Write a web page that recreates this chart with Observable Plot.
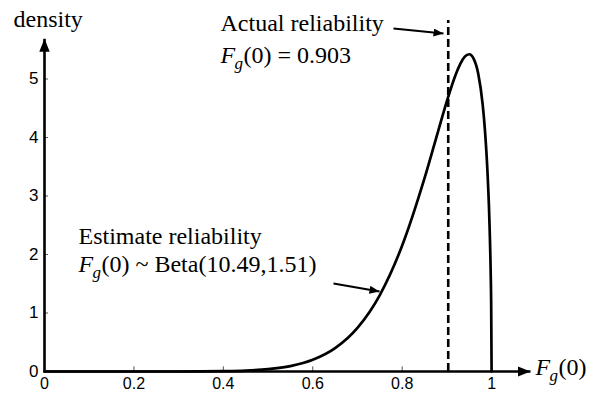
<!DOCTYPE html>
<html><head><meta charset="utf-8">
<script src="https://cdn.jsdelivr.net/npm/d3@7"></script>
<script src="https://cdn.jsdelivr.net/npm/@observablehq/plot@0.6"></script>
<style>
html,body{margin:0;padding:0;background:#fff;}
</style>
</head><body>
<div id="chart"></div>
<script>
// Estimated density of Fg(0)
const xValues = [0, 0.1, 0.2, 0.3, 0.35, 0.4, 0.45, 0.5, 0.55, 0.6, 0.65, 0.7, 0.75, 0.8, 0.85, 0.88, 0.9, 0.92, 0.93, 0.94, 0.95, 0.96, 0.97, 0.98, 0.985, 0.99, 0.995, 0.998, 0.999, 1];
const densityValues = [0, 0, 0, 0.0004, 0.0015, 0.005, 0.015, 0.040, 0.093, 0.200, 0.399, 0.746, 1.307, 2.153, 3.304, 4.098, 4.622, 5.082, 5.260, 5.382, 5.423, 5.344, 5.093, 4.565, 4.136, 3.529, 2.600, 1.677, 1.188, 0];
const xTicks = [0, 0.2, 0.4, 0.6, 0.8, 1];
const xTickLabels = ["0", "0.2", "0.4", "0.6", "0.8", "1"];
const yTicks = [0, 1, 2, 3, 4, 5];
const yTickLabels = ["0", "1", "2", "3", "4", "5"];
const actualReliability = [0.903];

const curveData = xValues.map((x, i) => ({x, y: densityValues[i]}));
const serif = "'Liberation Serif', 'Times New Roman', serif";

function txt(x, y, s, extra = {}) {
  return Plot.text([{x, y}], Object.assign({x: "x", y: "y", text: () => s, textAnchor: "start", lineAnchor: "bottom",
    fontFamily: serif, fontSize: 24, fill: "black"}, extra));
}
function fg(x, y, rest) {
  return [
    txt(x, y, "F", {fontStyle: "italic"}),
    txt(x, y, "g", {fontStyle: "italic", fontSize: 17, dx: 14, dy: 6}),
    txt(x, y, rest, {dx: 23})
  ];
}

const chart = Plot.plot({
  width: 595, height: 393,
  marginLeft: 44, marginRight: 65, marginTop: 20, marginBottom: 22,
  x: {domain: [0, 1.087]},
  y: {domain: [0, 6]},
  style: {fontFamily: "'Liberation Sans', Arial, sans-serif", fontSize: "17px", background: "white", color: "black", overflow: "visible"},
  marks: [
    Plot.axisX(xTicks, {tickSize: 0, tickPadding: 6, fontSize: 16, tickFormat: d => xTickLabels[xTicks.indexOf(d)], label: null, fill: "black"}),
    Plot.axisY(yTicks, {tickSize: 0, tickPadding: 6, tickFormat: d => yTickLabels[yTicks.indexOf(d)], label: null, fill: "black"}),
    Plot.ruleX(xTicks, {x: d => d, y1: 0, y2: 0.08, stroke: "#555", strokeWidth: 1}),
    Plot.ruleY(yTicks, {y: d => d, x1: 0, x2: 0.009, stroke: "#555", strokeWidth: 1}),
    Plot.ruleX(actualReliability, {x: d => d, y1: 0, y2: 6, stroke: "black", strokeWidth: 2.6, strokeDasharray: "8,4"}),
    Plot.line(curveData, {x: "x", y: "y", curve: "monotone-x", stroke: "black", strokeWidth: 2.7}),
    Plot.link([{x1: 0, y1: 0, x2: 1.087, y2: 0}], {x1: "x1", y1: "y1", x2: "x2", y2: "y2", stroke: "black", strokeWidth: 2.6, markerEnd: "arrow"}),
    Plot.link([{x1: 0, y1: -0.02, x2: 0, y2: 5.69}], {x1: "x1", y1: "y1", x2: "x2", y2: "y2", stroke: "black", strokeWidth: 2.6, markerEnd: "arrow"}),
    Plot.link([{x1: 0.7806, y1: 5.863, x2: 0.8924, y2: 5.778}], {x1: "x1", y1: "y1", x2: "x2", y2: "y2", stroke: "black", strokeWidth: 2, markerEnd: "arrow"}),
    Plot.link([{x1: 0.6464, y1: 1.504, x2: 0.7493, y2: 1.368}], {x1: "x1", y1: "y1", x2: "x2", y2: "y2", stroke: "black", strokeWidth: 2, markerEnd: "arrow"}),
    txt(-0.0693, 5.897, "density"),
    txt(0.3937, 5.812, "Actual reliability"),
    ...fg(0.3937, 5.282, "(0) = 0.903"),
    txt(0.076, 2.188, "Estimate reliability"),
    ...fg(0.076, 1.709, "(0) ~ Beta(10.49,1.51)"),
    ...fg(1.098, -0.068, "(0)")
  ]
});

d3.select(chart).selectAll("marker").each(function() {
  const m = d3.select(this);
  const color = m.attr("stroke") || "black";
  m.attr("viewBox", "-10 -4 10 8").attr("markerWidth", 5).attr("markerHeight", 4)
   .attr("refX", 0).attr("refY", 0)
   .attr("fill", color).attr("stroke", "none");
  m.selectAll("*").remove();
  m.append("path").attr("d", "M-10,-4L0,0L-10,4Z");
});

document.getElementById("chart").appendChild(chart);
</script>
</body></html>
